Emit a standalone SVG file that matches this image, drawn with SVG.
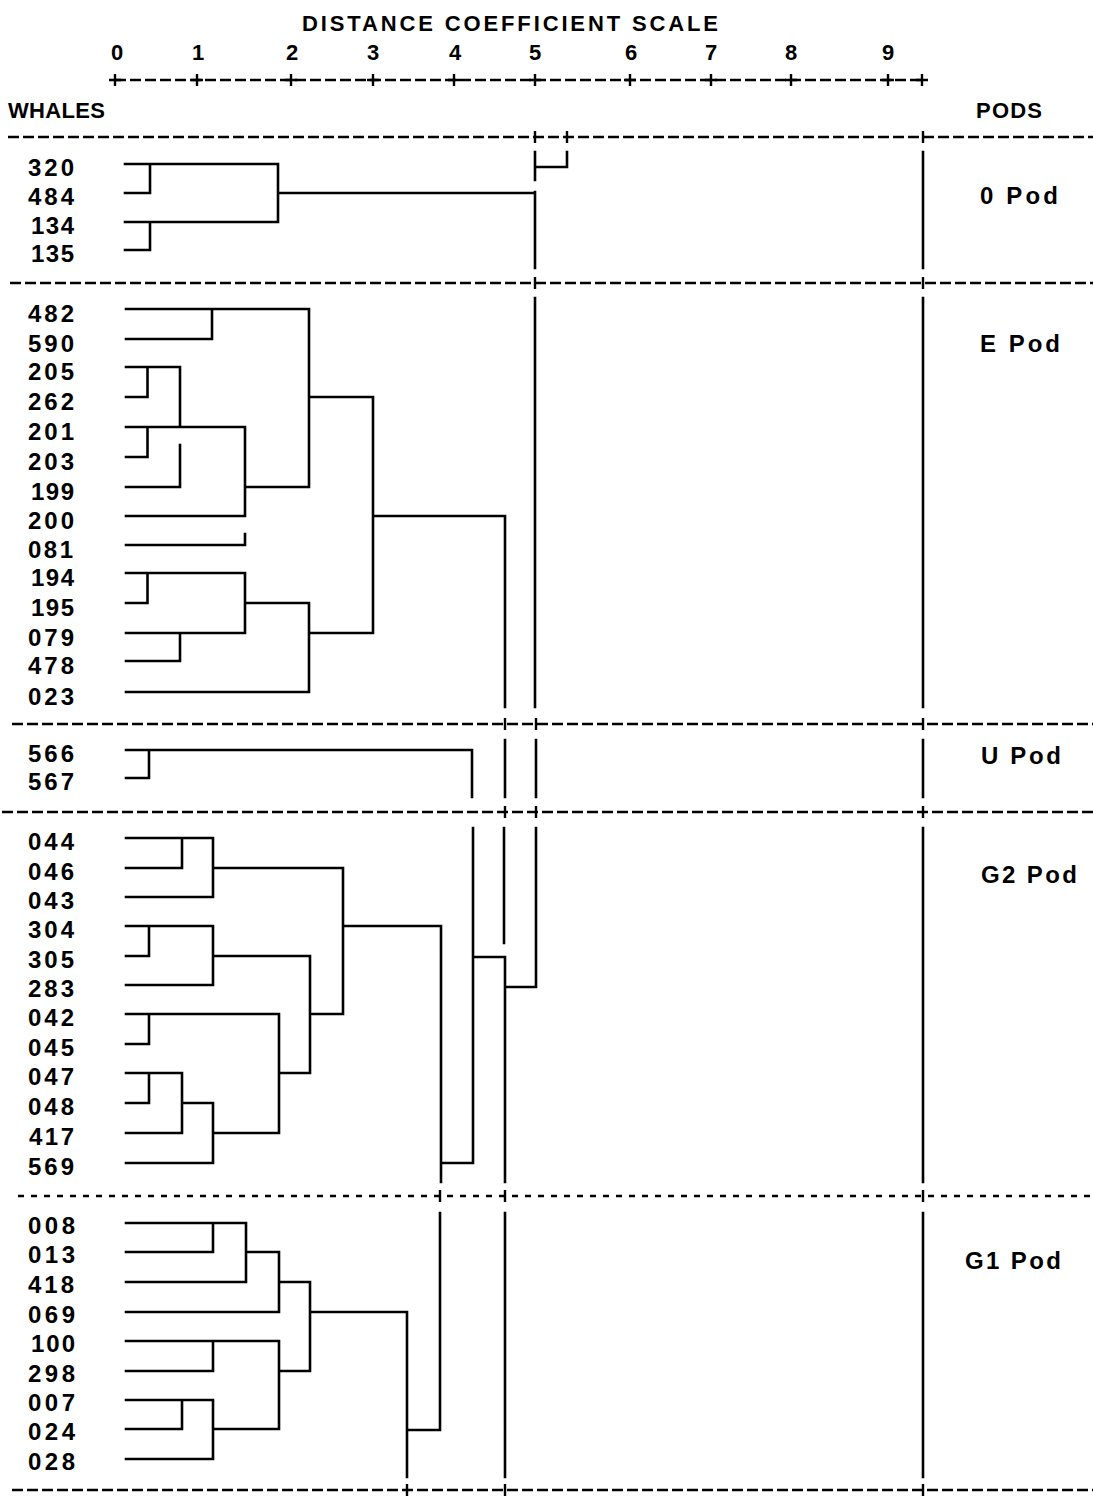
<svg xmlns="http://www.w3.org/2000/svg" width="1093" height="1505" viewBox="0 0 1093 1505">
<style>
text{font-family:"Liberation Sans",Arial,sans-serif;font-size:24px;font-weight:bold;fill:#000}
.hd{font-size:22px}
.ax{text-anchor:middle;font-size:22px}
.ln{fill:none;stroke:#000;stroke-width:2.6;stroke-linecap:square}
.dash{fill:none;stroke:#000;stroke-width:2.6;stroke-dasharray:11 4}
.dot{fill:none;stroke:#000;stroke-width:2.6;stroke-dasharray:6 7}
.tk{fill:none;stroke:#000;stroke-width:2.4}
</style>
<rect width="1093" height="1505" fill="#fff"/>
<g id="header">
<text class="hd" x="302" y="31" textLength="416" lengthAdjust="spacing">DISTANCE COEFFICIENT SCALE</text>
<text class="ax" x="117" y="60">0</text>
<text class="ax" x="198" y="60">1</text>
<text class="ax" x="292" y="60">2</text>
<text class="ax" x="373" y="60">3</text>
<text class="ax" x="455" y="60">4</text>
<text class="ax" x="535" y="60">5</text>
<text class="ax" x="631" y="60">6</text>
<text class="ax" x="711" y="60">7</text>
<text class="ax" x="791" y="60">8</text>
<text class="ax" x="888" y="60">9</text>
<text class="hd" x="8" y="118" textLength="97" lengthAdjust="spacing">WHALES</text>
<text class="hd" x="976" y="118" textLength="66" lengthAdjust="spacing">PODS</text>
</g>
<g id="scale">
<path class="dash" d="M115 80 H923"/>
<path class="tk" d="M115 74 V86 M109 80 H121 M197 74 V86 M191 80 H203 M291 74 V86 M285 80 H297 M373 74 V86 M367 80 H379 M454 74 V86 M448 80 H460 M535 74 V86 M529 80 H541 M630 74 V86 M624 80 H636 M711 74 V86 M705 80 H717 M791 74 V86 M785 80 H797 M888 74 V86 M882 80 H894 M922 74 V86 M916 80 H928"/>
</g>
<g id="separators">
<path class="dash" d="M8 137 H1093 M10 283 H1093 M12 724 H1093 M2 812 H1093 M12 1490 H1093"/>
<path class="dot" d="M18 1196 H1093"/>
<path class="tk" d="M535 131 V143 M567 131 V143 M923 131 V143 M535 277 V289 M923 277 V289 M505 718 V730 M536 718 V730 M923 718 V730 M505 806 V818 M536 806 V818 M923 806 V818 M440 1190 V1202 M505 1190 V1202 M923 1190 V1202 M407 1484 V1496 M505 1484 V1496 M923 1484 V1496"/>
</g>
<g id="leaves">
<g id="leaf-320"><text x="28" y="176" textLength="46">320</text></g>
<g id="leaf-484"><text x="28" y="205" textLength="46">484</text></g>
<g id="leaf-134"><text x="31" y="234" textLength="43">134</text></g>
<g id="leaf-135"><text x="31" y="262" textLength="43">135</text></g>
<g id="leaf-482"><text x="28" y="322" textLength="46">482</text></g>
<g id="leaf-590"><text x="28" y="352" textLength="46">590</text></g>
<g id="leaf-205"><text x="28" y="380" textLength="46">205</text></g>
<g id="leaf-262"><text x="28" y="410" textLength="46">262</text></g>
<g id="leaf-201"><text x="28" y="440" textLength="46">201</text></g>
<g id="leaf-203"><text x="28" y="470" textLength="46">203</text></g>
<g id="leaf-199"><text x="31" y="500" textLength="43">199</text></g>
<g id="leaf-200"><text x="28" y="529" textLength="46">200</text></g>
<g id="leaf-081"><text x="28" y="558" textLength="45">081</text></g>
<g id="leaf-194"><text x="31" y="586" textLength="43">194</text></g>
<g id="leaf-195"><text x="31" y="616" textLength="43">195</text></g>
<g id="leaf-079"><text x="28" y="646" textLength="46">079</text></g>
<g id="leaf-478"><text x="28" y="674" textLength="46">478</text></g>
<g id="leaf-023"><text x="28" y="705" textLength="46">023</text></g>
<g id="leaf-566"><text x="28" y="762" textLength="46">566</text></g>
<g id="leaf-567"><text x="28" y="790" textLength="46">567</text></g>
<g id="leaf-044"><text x="28" y="850" textLength="46">044</text></g>
<g id="leaf-046"><text x="28" y="880" textLength="46">046</text></g>
<g id="leaf-043"><text x="28" y="909" textLength="46">043</text></g>
<g id="leaf-304"><text x="28" y="938" textLength="46">304</text></g>
<g id="leaf-305"><text x="28" y="968" textLength="46">305</text></g>
<g id="leaf-283"><text x="28" y="997" textLength="46">283</text></g>
<g id="leaf-042"><text x="28" y="1026" textLength="46">042</text></g>
<g id="leaf-045"><text x="28" y="1056" textLength="46">045</text></g>
<g id="leaf-047"><text x="28" y="1085" textLength="46">047</text></g>
<g id="leaf-048"><text x="28" y="1115" textLength="46">048</text></g>
<g id="leaf-417"><text x="29" y="1145" textLength="45">417</text></g>
<g id="leaf-569"><text x="28" y="1175" textLength="46">569</text></g>
<g id="leaf-008"><text x="28" y="1234" textLength="47">008</text></g>
<g id="leaf-013"><text x="28" y="1263" textLength="47">013</text></g>
<g id="leaf-418"><text x="28" y="1293" textLength="46">418</text></g>
<g id="leaf-069"><text x="28" y="1323" textLength="47">069</text></g>
<g id="leaf-100"><text x="31" y="1352" textLength="44">100</text></g>
<g id="leaf-298"><text x="28" y="1382" textLength="47">298</text></g>
<g id="leaf-007"><text x="28" y="1411" textLength="47">007</text></g>
<g id="leaf-024"><text x="28" y="1440" textLength="47">024</text></g>
<g id="leaf-028"><text x="28" y="1470" textLength="47">028</text></g>
</g>
<g id="pods">
<g id="pod-O"><text x="980" y="204" textLength="78" lengthAdjust="spacing">0 Pod</text></g>
<g id="pod-E"><text x="980" y="352" textLength="80" lengthAdjust="spacing">E Pod</text></g>
<g id="pod-U"><text x="981" y="764" textLength="80" lengthAdjust="spacing">U Pod</text></g>
<g id="pod-G2"><text x="981" y="883" textLength="96" lengthAdjust="spacing">G2 Pod</text></g>
<g id="pod-G1"><text x="965" y="1269" textLength="96" lengthAdjust="spacing">G1 Pod</text></g>
</g>
<g id="connectors" class="ln">
<path d="M125 164 H278 V222 H125 M150 164 V193 H125 M150 222 V250 H125 M278 193 H535 M535 152 V180 M535 192 V268 M535 167 H567 V152 M923 152 V268"/>
<path d="M126 309 H309 V487 H245 M212 309 V339 H126 M126 367 H180 V427 M147.5 367 V397 H126 M126 427 H245 V516 H126 M147.5 427 V457 H126 M180 445 V487 H126 M126 545 H245 V534 M126 573 H245 V633 H126 M147.5 573 V603 H126 M245 603 H309 V692 H126 M180 633 V661 H126 M309 397 H373 V633 H309 M373 516 H505 V707 M535 298 V707 M923 298 V707"/>
<path d="M126 750 H472 V797 M149 750 V778 H126 M505 740 V797 M536 740 V797 M923 740 V797"/>
<path d="M126 838 H213 V897 H126 M182 838 V868 H126 M213 868 H343 V1014 H310 M126 926 H213 V985 H126 M149 926 V956 H126 M213 956 H310 V1073 H279 M126 1014 H279 V1133 H213 M149 1014 V1044 H126 M126 1073 H182 V1133 H126 M149 1073 V1103 H126 M182 1103 H213 V1163 H126 M343 926 H441 V1182 M441 1163 H473 V828 M473 957 H505 V1182 M504 828 V943 M505 987 H536 V828 M923 828 V1182"/>
<path d="M126 1223 H246 V1282 H126 M213 1223 V1252 H126 M246 1252 H279 V1312 H126 M279 1282 H310 V1371 H279 M310 1312 H407 V1477 M126 1341 H279 V1429 H213 M213 1341 V1371 H126 M126 1400 H213 V1459 H126 M182 1400 V1429 H126 M407 1430 H440 V1213 M505 1213 V1477 M923 1213 V1477"/>
</g>
</svg>
